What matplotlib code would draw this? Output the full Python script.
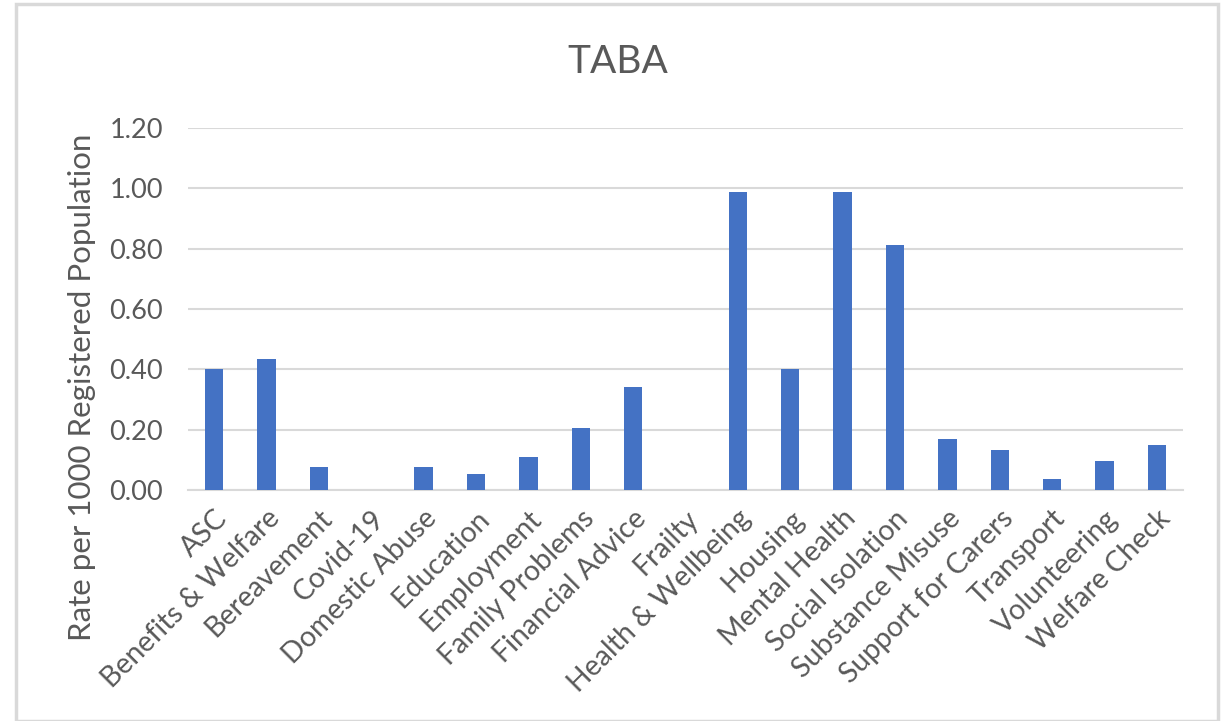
import matplotlib.pyplot as plt
import numpy as np
from matplotlib.patches import Rectangle

categories = ['ASC', 'Benefits & Welfare', 'Bereavement', 'Covid-19', 'Domestic Abuse',
              'Education', 'Employment', 'Family Problems', 'Financial Advice', 'Frailty',
              'Health & Wellbeing', 'Housing', 'Mental Health', 'Social Isolation',
              'Substance Misuse', 'Support for Carers', 'Transport', 'Volunteering',
              'Welfare Check']
rates = [0.40, 0.435, 0.076, 0.0, 0.076, 0.054, 0.11, 0.207, 0.341, 0.0,
         0.988, 0.40, 0.988, 0.813, 0.17, 0.134, 0.037, 0.096, 0.15]
y_ticks = [0.0, 0.2, 0.4, 0.6, 0.8, 1.0, 1.2]

plt.rcParams['font.family'] = ['Lato', 'DejaVu Sans']
text_color = '#595959'

fig = plt.figure(figsize=(12.25, 7.21), dpi=100)
fig.patches.append(Rectangle((16 / 1225, 0), (1218 - 16) / 1225, 717 / 721,
                             transform=fig.transFigure, fill=False,
                             edgecolor='#d9d9d9', linewidth=2.5))

ax = fig.add_axes([188 / 1225, 1 - 490 / 721, (1183 - 188) / 1225, (490 - 128) / 721])
x = np.arange(len(categories))
ax.bar(x, rates, width=0.35, color='#4472C4', zorder=3)

ax.set_ylim(0, 1.2)
ax.set_xlim(-0.5, len(categories) - 0.5)
ax.set_yticks(y_ticks)
ax.set_yticklabels([f'{v:.2f}' for v in y_ticks])
ax.set_xticks(x)
ax.set_xticklabels(categories, rotation=45, ha='right', rotation_mode='anchor')
ax.tick_params(axis='both', length=0, labelsize=19.5, colors=text_color)
ax.tick_params(axis='x', labelsize=20.5, pad=11)
ax.tick_params(axis='y', pad=18)

ax.grid(axis='y', color='#d9d9d9', linewidth=1.5, zorder=0)
for side in ['top', 'right', 'left']:
    ax.spines[side].set_visible(False)
ax.spines['bottom'].set_color('#d9d9d9')
ax.spines['bottom'].set_linewidth(1.5)

fig.text(82 / 1225, 1 - 387 / 721, 'Rate per 1000 Registered Population', fontsize=22.5,
         color=text_color, rotation=90, ha='center', va='center')
fig.text(618 / 1225, 1 - 62 / 721, 'TABA', fontsize=28, color=text_color,
         ha='center', va='center')

fig.savefig('out.png', dpi=100)
